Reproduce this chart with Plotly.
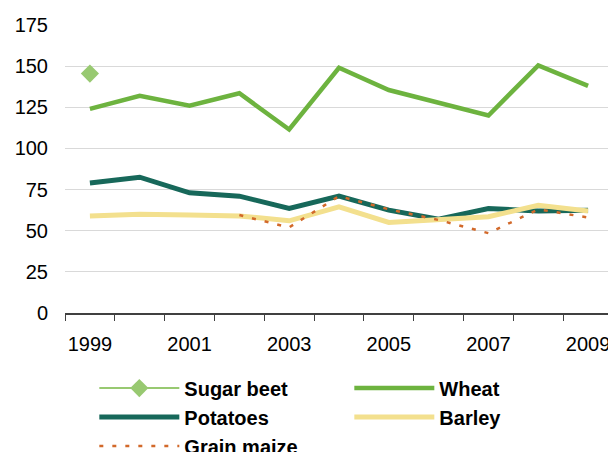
import plotly.graph_objects as go

years = [1999, 2000, 2001, 2002, 2003, 2004, 2005, 2006, 2007, 2008, 2009]
wheat = [124, 132, 126, 133.5, 111.5, 149, 135.5, 127.5, 120, 150.5, 138]
potatoes = [79, 82.5, 73, 71, 63.5, 71, 62.5, 57, 63.5, 62, 62.5]
barley = [59, 60, 59.5, 59, 56, 64.5, 55, 56.5, 58.5, 65.5, 62]
maize_years = [2002, 2003, 2004, 2005, 2006, 2007, 2008, 2009]
grain_maize = [59.5, 52, 71, 63, 56.5, 48.5, 63, 58]
beet_years = [1999]
sugar_beet = [145.5]
tick_years = [1999, 2001, 2003, 2005, 2007, 2009]

fig = go.Figure()

fig.add_trace(go.Scatter(x=years, y=wheat, mode="lines", name="Wheat", legendrank=2,
                         line=dict(width=4.5, color="#6db33f")))
fig.add_trace(go.Scatter(x=years, y=potatoes, mode="lines", name="Potatoes", legendrank=3,
                         line=dict(width=5, color="#17685a")))
fig.add_trace(go.Scatter(x=years, y=barley, mode="lines", name="Barley", legendrank=4,
                         line=dict(width=5, color="#f3e08e")))
fig.add_trace(go.Scatter(x=maize_years, y=grain_maize, mode="lines", name="Grain maize", legendrank=5,
                         line=dict(width=2.5, color="#d2692a", dash="4px,9px")))
fig.add_trace(go.Scatter(x=beet_years, y=sugar_beet, mode="lines+markers", name="Sugar beet", legendrank=1,
                         line=dict(width=2, color="#98c971"),
                         marker=dict(symbol="diamond", size=14, color="#98c971")))

fig.update_xaxes(
    range=[1998.5, 2009.4],
    tickvals=tick_years,
    ticktext=[str(y) for y in tick_years],
    ticks="",
    ticklabelstandoff=12,
    ticklabeloverflow="allow",
    showgrid=False,
    showline=True, linecolor="#404040", linewidth=1.5,
    minor=dict(ticks="outside", ticklen=6, tick0=1998.5, dtick=1, tickcolor="#404040", showgrid=False),
    tickfont=dict(family="Liberation Sans, Arial", size=20, color="black"),
    automargin=False,
    fixedrange=True,
)
fig.update_yaxes(
    range=[0, 175],
    tickvals=[0, 25, 50, 75, 100, 125, 150, 175],
    showgrid=True, gridcolor="#d9d9d9", gridwidth=1,
    zeroline=False, showline=False,
    ticklabelstandoff=16,
    tickfont=dict(family="Liberation Sans, Arial", size=20, color="black"),
    automargin=False,
)

fig.update_layout(
    width=608, height=452,
    margin=dict(l=65, r=0, t=25, b=139, autoexpand=False),
    plot_bgcolor="white",
    paper_bgcolor="white",
    showlegend=True,
    legend=dict(
        orientation="h", x=0.054, xanchor="left", y=-0.193, yanchor="top",
        entrywidth=160, itemwidth=80, tracegroupgap=0,
        font=dict(family="Liberation Sans, Arial", size=20, color="black", weight="bold"),
        bgcolor="rgba(0,0,0,0)",
    ),
)

# drop the default body margin so the figure fills the window exactly
fig.write_html(
    "out.html",
    config={"displayModeBar": False},
    post_script="document.body.style.margin='0';document.body.style.overflow='hidden';",
)
